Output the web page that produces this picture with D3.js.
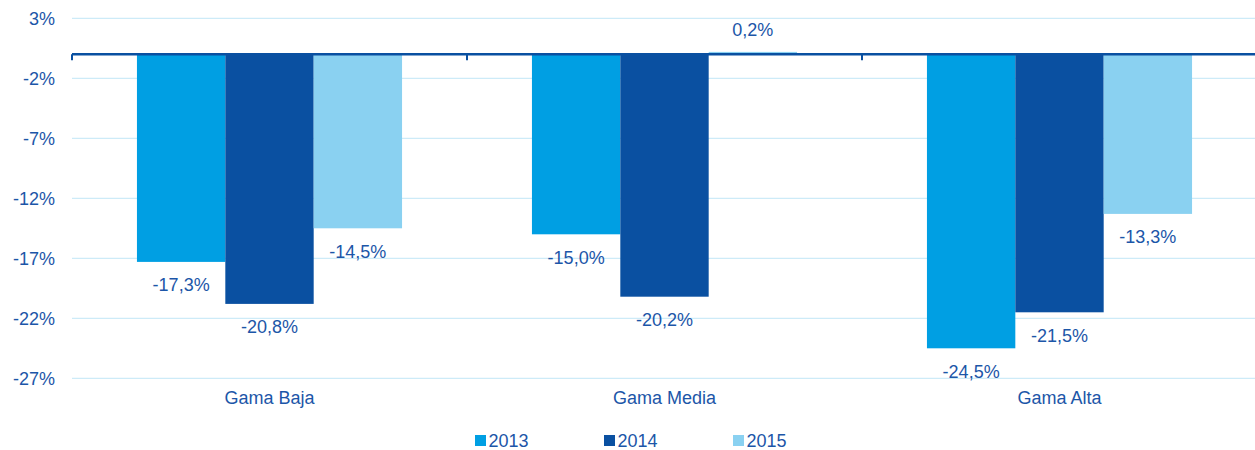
<!DOCTYPE html>
<html>
<head>
<meta charset="utf-8">
<script src="https://d3js.org/d3.v7.min.js"></script>
<style>
  body { margin: 0; background: #fff; }
  #chart { width: 1255px; height: 450px; }
</style>
</head>
<body>
<div id="chart"></div>
<script>
const categories = ["Gama Baja", "Gama Media", "Gama Alta"];
const years = ["2013", "2014", "2015"];
const values2013 = [-17.3, -15.0, -24.5];
const values2014 = [-20.8, -20.2, -21.5];
const values2015 = [-14.5, 0.2, -13.3];
const yTicks = [3, -2, -7, -12, -17, -22, -27];
const colors = ["#009fe3", "#0a50a1", "#8ad1f1"];

const seriesValues = [values2013, values2014, values2015];
const data = categories.map((c, i) => ({
    category: c,
    values: years.map((y, j) => ({ year: y, value: seriesValues[j][i] }))
}));

const width = 1255, height = 450;
const margin = { top: 18.3, right: -2, bottom: 71.7, left: 72 };
const innerW = width - margin.left - margin.right;
const innerH = height - margin.top - margin.bottom;
const textColor = "#1c56a8";
const font = "'Liberation Sans', Arial, sans-serif";
const fontSize = "18px";

// comma decimal, plain hyphen minus
const fmtPct = v => (v < 0 ? "-" : "") + Math.abs(v).toFixed(1).replace(".", ",") + "%";

const svg = d3.select("#chart").append("svg")
    .attr("width", width)
    .attr("height", height);

const g = svg.append("g")
    .attr("transform", `translate(${margin.left},${margin.top})`);

const x0 = d3.scaleBand().domain(categories).range([0, innerW]).paddingInner(0).paddingOuter(0);
const x1 = d3.scaleBand().domain(years).range([0, x0.bandwidth()]).paddingInner(0).paddingOuter(0.735);
const y = d3.scaleLinear().domain([3, -27]).range([0, innerH]);

// gridlines
g.append("g")
    .selectAll("line")
    .data(yTicks)
    .join("line")
    .attr("x1", 0)
    .attr("x2", innerW)
    .attr("y1", d => y(d))
    .attr("y2", d => y(d))
    .attr("stroke", "#cdebf8")
    .attr("stroke-width", 1.2);

// y axis labels
const yAxis = g.append("g")
    .call(d3.axisLeft(y).tickValues(yTicks).tickFormat(d => d + "%").tickSize(0).tickPadding(17));
yAxis.select(".domain").remove();
yAxis.selectAll("text")
    .style("font-family", font)
    .style("font-size", fontSize)
    .attr("fill", textColor);

// bars
const groups = g.selectAll(".grp")
    .data(data)
    .join("g")
    .attr("class", "grp")
    .attr("transform", d => `translate(${x0(d.category)},0)`);

groups.selectAll("rect")
    .data(d => d.values)
    .join("rect")
    .attr("x", d => x1(d.year))
    .attr("width", x1.bandwidth())
    .attr("y", d => Math.min(y(d.value), y(0)))
    .attr("height", d => Math.abs(y(d.value) - y(0)))
    .attr("fill", (d, i) => colors[i]);

// value labels
groups.selectAll("text.val")
    .data(d => d.values)
    .join("text")
    .attr("class", "val")
    .attr("x", d => x1(d.year) + x1.bandwidth() / 2)
    .attr("y", d => d.value < 0 ? y(d.value) + 29.5 : y(d.value) - 16)
    .attr("text-anchor", "middle")
    .style("font-family", font)
    .style("font-size", fontSize)
    .attr("fill", textColor)
    .text(d => fmtPct(d.value));

// zero axis with ticks at category boundaries
const zeroAxis = g.append("g")
    .attr("transform", `translate(0,${y(0)})`);
zeroAxis.append("line")
    .attr("x1", 0).attr("x2", innerW)
    .attr("stroke", "#0a50a1")
    .attr("stroke-width", 2.5);
zeroAxis.selectAll("line.tick")
    .data(categories.map(c => x0(c)).concat([innerW]))
    .join("line")
    .attr("class", "tick")
    .attr("x1", d => d).attr("x2", d => d)
    .attr("y1", 0).attr("y2", 6)
    .attr("stroke", "#0a50a1")
    .attr("stroke-width", 2);

// category labels
g.append("g")
    .selectAll("text")
    .data(categories)
    .join("text")
    .attr("x", d => x0(d) + x0.bandwidth() / 2)
    .attr("y", innerH + 26)
    .attr("text-anchor", "middle")
    .style("font-family", font)
    .style("font-size", fontSize)
    .attr("fill", textColor)
    .text(d => d);

// legend
const legend = svg.append("g")
    .attr("transform", "translate(475,433)");
const items = legend.selectAll("g")
    .data(years)
    .join("g")
    .attr("transform", (d, i) => `translate(${i * 129},0)`);
items.append("rect")
    .attr("width", 11).attr("height", 11)
    .attr("y", 2)
    .attr("fill", (d, i) => colors[i]);
items.append("text")
    .attr("x", 13.5)
    .attr("y", 14)
    .style("font-family", font)
    .style("font-size", fontSize)
    .attr("fill", textColor)
    .text(d => d);
</script>
</body>
</html>
